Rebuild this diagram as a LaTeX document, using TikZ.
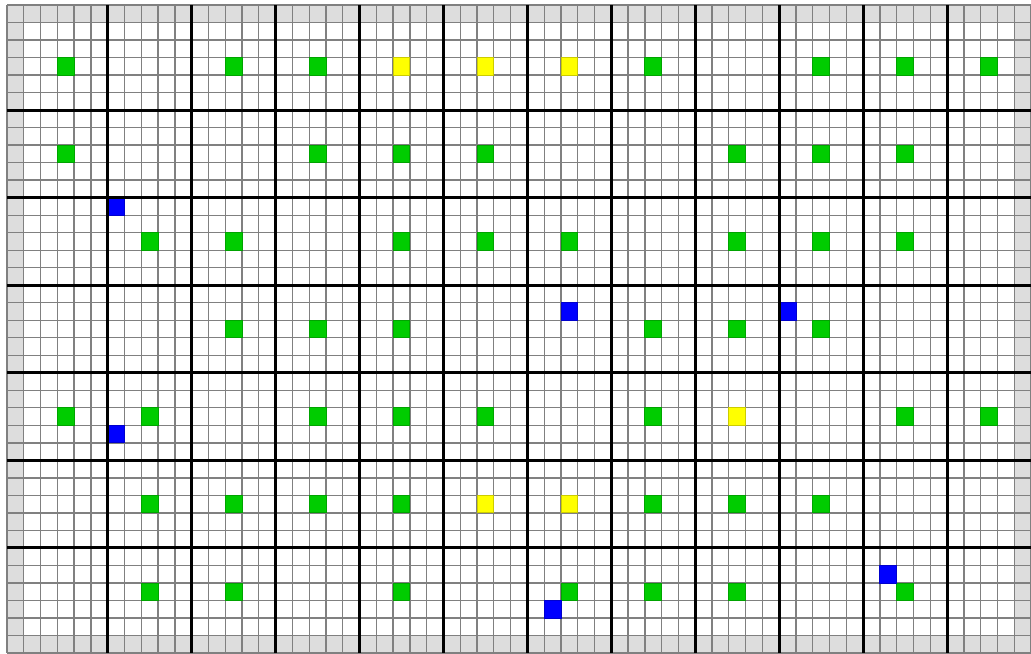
\documentclass[tikz,border=0pt]{standalone}
\usepackage{xcolor}
\usepackage{tikz}
\usetikzlibrary{calc}
\definecolor{cellgreen}{RGB}{0, 204, 0}
\definecolor{cellyellow}{RGB}{255, 255, 0}
\definecolor{cellblue}{RGB}{0, 0, 255}
\definecolor{bordergray}{RGB}{221, 221, 221}
\definecolor{finegray}{RGB}{128, 128, 128}

\begin{document}
\begin{tikzpicture}[
    x=0.33574cm, y=-0.35028cm,
    rim/.style={fill=bordergray},
    fine/.style={draw=finegray, line width=0.75pt},
    major/.style={draw=black, line width=1.7pt},
    greencell/.style={fill=cellgreen, draw=cellgreen!80!black, line width=0.5pt},
    yellowcell/.style={fill=cellyellow, draw=cellyellow!80!black, line width=0.5pt},
    bluecell/.style={fill=cellblue, draw=cellblue!80!black, line width=0.5pt}
]

%% ── CANVAS ──────────────────────────────────────────────────────────────────
\useasboundingbox (-0.417,-0.2855) rectangle (61,37);
\fill[white] (-0.417,-0.2855) rectangle (61,37);

%% ── BORDER CELLS ────────────────────────────────────────────────────────────
\path[rim] (0,0)  rectangle (61,1);
\path[rim] (0,36) rectangle (61,37);
\path[rim] (0,0)  rectangle (1,37);
\path[rim] (60,0) rectangle (61,37);

%% ── FINE GRID ───────────────────────────────────────────────────────────────
\foreach \c in {0,...,61}
  \draw[fine] (\c,0) -- (\c,37);
\foreach \r in {0,...,37}
  \draw[fine] (0,\r) -- (61,\r);

%% ── BLOCK CENTRES ───────────────────────────────────────────────────────────
% green  (block column / block row)
\foreach \j/\i in {0/0,2/0,3/0,7/0,9/0,10/0,11/0,
                   0/1,3/1,4/1,5/1,8/1,9/1,10/1,
                   1/2,2/2,4/2,5/2,6/2,8/2,9/2,10/2,
                   2/3,3/3,4/3,7/3,8/3,9/3,
                   0/4,1/4,3/4,4/4,5/4,7/4,10/4,11/4,
                   1/5,2/5,3/5,4/5,7/5,8/5,9/5,
                   1/6,2/6,4/6,6/6,7/6,8/6,10/6}
  \path[greencell] ({3+5*\j},{3+5*\i}) rectangle ++(1,1);

% yellow
\foreach \j/\i in {4/0,5/0,6/0,8/4,5/5,6/5}
  \path[yellowcell] ({3+5*\j},{3+5*\i}) rectangle ++(1,1);

%% ── BLUE CELLS ──────────────────────────────────────────────────────────────
\foreach \c/\r in {6/11,33/17,46/17,6/24,52/32,32/34}
  \path[bluecell] (\c,\r) rectangle ++(1,1);

%% ── MAJOR LINES ─────────────────────────────────────────────────────────────
\foreach \c in {6,11,...,56}
  \draw[major] (\c,0) -- (\c,37);
\foreach \r in {6,11,...,31}
  \draw[major] (0,\r) -- (61,\r);

\end{tikzpicture}
\end{document}
